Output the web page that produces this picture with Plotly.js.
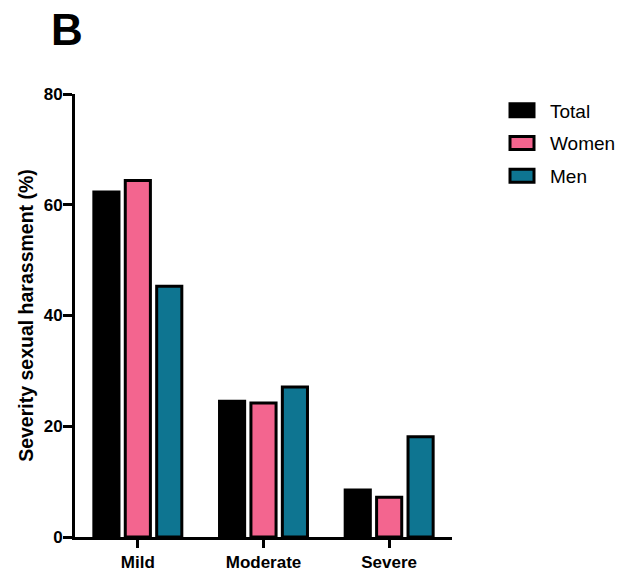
<!DOCTYPE html>
<html><head><meta charset="utf-8">
<script src="https://cdn.plot.ly/plotly-3.0.1.min.js"></script>
<style>body{margin:0;background:#fff}#c{width:621px;height:572px}</style>
</head><body><div id="c"></div>
<script>
const categories = ["Mild", "Moderate", "Severe"];
const seriesNames = ["Total", "Women", "Men"];
const totalVals = [62.3, 24.5, 8.5];
const womenVals = [64.4, 24.2, 7.2];
const menVals = [45.3, 27.1, 18.1];
const colors = ["#000000", "#f3658f", "#0e7591"];
const yTicks = [0, 20, 40, 60, 80];

const vals = [totalVals, womenVals, menVals];
const traces = vals.map((v, i) => ({
  type: "bar", name: seriesNames[i], x: categories, y: v,
  legendgroup: "g" + i,
  marker: {color: colors[i], line: {color: "#000", width: 3}}
}));

const tickFont = {size: 17, family: "Arial, Liberation Sans, sans-serif", color: "#000", weight: "bold"};
const layout = {
  width: 621, height: 572,
  margin: {l: 75, r: 169, t: 94, b: 35, autoexpand: false},
  paper_bgcolor: "#fff", plot_bgcolor: "#fff",
  font: {family: "Arial, Liberation Sans, sans-serif", color: "#000"},
  title: {text: "<b>B</b>", font: {size: 44, color: "#000"}, xref: "container", x: 0.082, xanchor: "left", yref: "container", y: 0.948, yanchor: "middle"},
  barmode: "group", bargap: 0.25, bargroupgap: 0.2,
  xaxis: {
    showline: true, linecolor: "#000", linewidth: 3,
    ticks: "outside", ticklen: 8, tickwidth: 3, tickcolor: "#000",
    tickfont: tickFont,
    showgrid: false, zeroline: false
  },
  yaxis: {
    range: [0, 80], tickvals: yTicks, ticktext: yTicks.map(String),
    showline: true, linecolor: "#000", linewidth: 3,
    ticks: "outside", ticklen: 9, tickwidth: 3, tickcolor: "#000",
    ticklabelstandoff: -3,
    tickfont: tickFont,
    showgrid: false, zeroline: false,
    title: {text: "<b>Severity sexual harassment (%)</b>", font: {size: 19.5, family: "Arial, Liberation Sans, sans-serif", color: "#000"}, standoff: 5}
  },
  legend: {
    xref: "container", yref: "container",
    x: 0.7955, xanchor: "left", y: 0.840, yanchor: "top",
    font: {size: 19, family: "Arial, Liberation Sans, sans-serif", color: "#000"},
    traceorder: "grouped", tracegroupgap: 5, itemwidth: 46
  },
  showlegend: true
};
Plotly.newPlot("c", traces, layout, {displayModeBar: false, staticPlot: true}).then(gd => {
  gd.querySelectorAll(".legend .legendpoints path").forEach(p => {
    p.setAttribute("d", "M12,6.5H-12V-6.5H12Z");
  });
});
</script></body></html>
